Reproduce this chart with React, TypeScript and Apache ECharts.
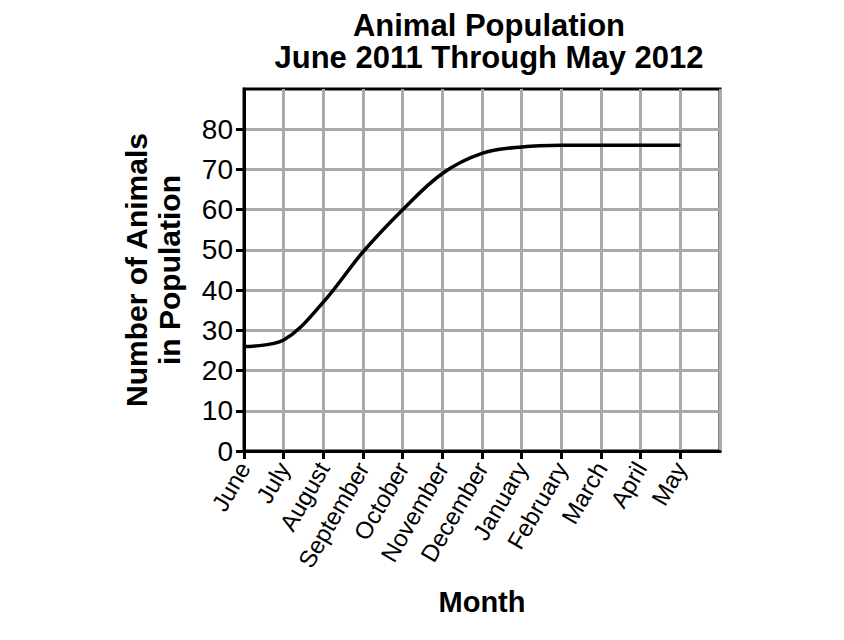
import React, { useEffect, useRef } from "react";
import * as echarts from "echarts";

const months = ["June", "July", "August", "September", "October", "November", "December", "January", "February", "March", "April", "May", ""];
const population = [26, 27.6, 37, 49.5, 60, 69, 74, 75.6, 76, 76, 76, 76];
const yTicks = [0, 10, 20, 30, 40, 50, 60, 70, 80];

const FONT = "'Liberation Sans', Arial, Helvetica, sans-serif";

export default function App() {
  const ref = useRef<HTMLDivElement>(null);
  useEffect(() => {
    const chart = echarts.init(ref.current!, null, { renderer: "svg" });
    chart.setOption({
      animation: false,
      backgroundColor: "#ffffff",
      title: {
        text: "Animal Population",
        subtext: "June 2011 Through May 2012",
        left: 484,
        top: 4,
        itemGap: 0,
        textAlign: "center",
        textStyle: { fontFamily: FONT, fontSize: 31, fontWeight: "bold", color: "#000", lineHeight: 32 },
        subtextStyle: { fontFamily: FONT, fontSize: 31, fontWeight: "bold", color: "#000", lineHeight: 32 },
      },
      grid: {
        left: 244,
        right: 124,
        top: 89,
        bottom: 189,
        show: true,
        borderColor: "#000",
        borderWidth: 3,
        backgroundColor: "transparent",
      },
      xAxis: {
        type: "category",
        data: months,
        boundaryGap: false,
        name: "Month",
        nameLocation: "middle",
        nameGap: 136,
        nameTextStyle: { fontFamily: FONT, fontSize: 29, fontWeight: "bold", color: "#000" },
        axisLine: { lineStyle: { color: "#000", width: 3 } },
        axisTick: { show: true, length: 8, lineStyle: { color: "#000", width: 3 }, interval: (i: number) => i < 12 },
        axisLabel: { rotate: 60, fontFamily: FONT, fontSize: 24, color: "#000", margin: 13, interval: 0 },
        splitLine: { show: true, interval: 0, lineStyle: { color: "#aaaaaa", width: 3 } },
      },
      yAxis: {
        type: "value",
        min: 0,
        max: 90,
        interval: 10,
        name: "Number of Animals\nin Population",
        nameLocation: "middle",
        nameGap: 58,
        nameRotate: 90,
        nameTextStyle: { fontFamily: FONT, fontSize: 30, fontWeight: "bold", color: "#000", lineHeight: 33 },
        axisLine: { show: true, lineStyle: { color: "#000", width: 3 } },
        axisTick: { show: true, length: 8, lineStyle: { color: "#000", width: 3 }, customValues: yTicks },
        axisLabel: { fontFamily: FONT, fontSize: 28, color: "#000", margin: 11, customValues: yTicks },
        splitLine: { show: true, lineStyle: { color: "#aaaaaa", width: 3 } },
      },
      series: [
        {
          type: "line",
          data: population,
          smooth: 0.35,
          symbol: "none",
          lineStyle: { color: "#000", width: 3.5 },
        },
      ],
    });
    return () => chart.dispose();
  }, []);
  return <div ref={ref} style={{ width: 844, height: 640, margin: -8 }} />;
}
